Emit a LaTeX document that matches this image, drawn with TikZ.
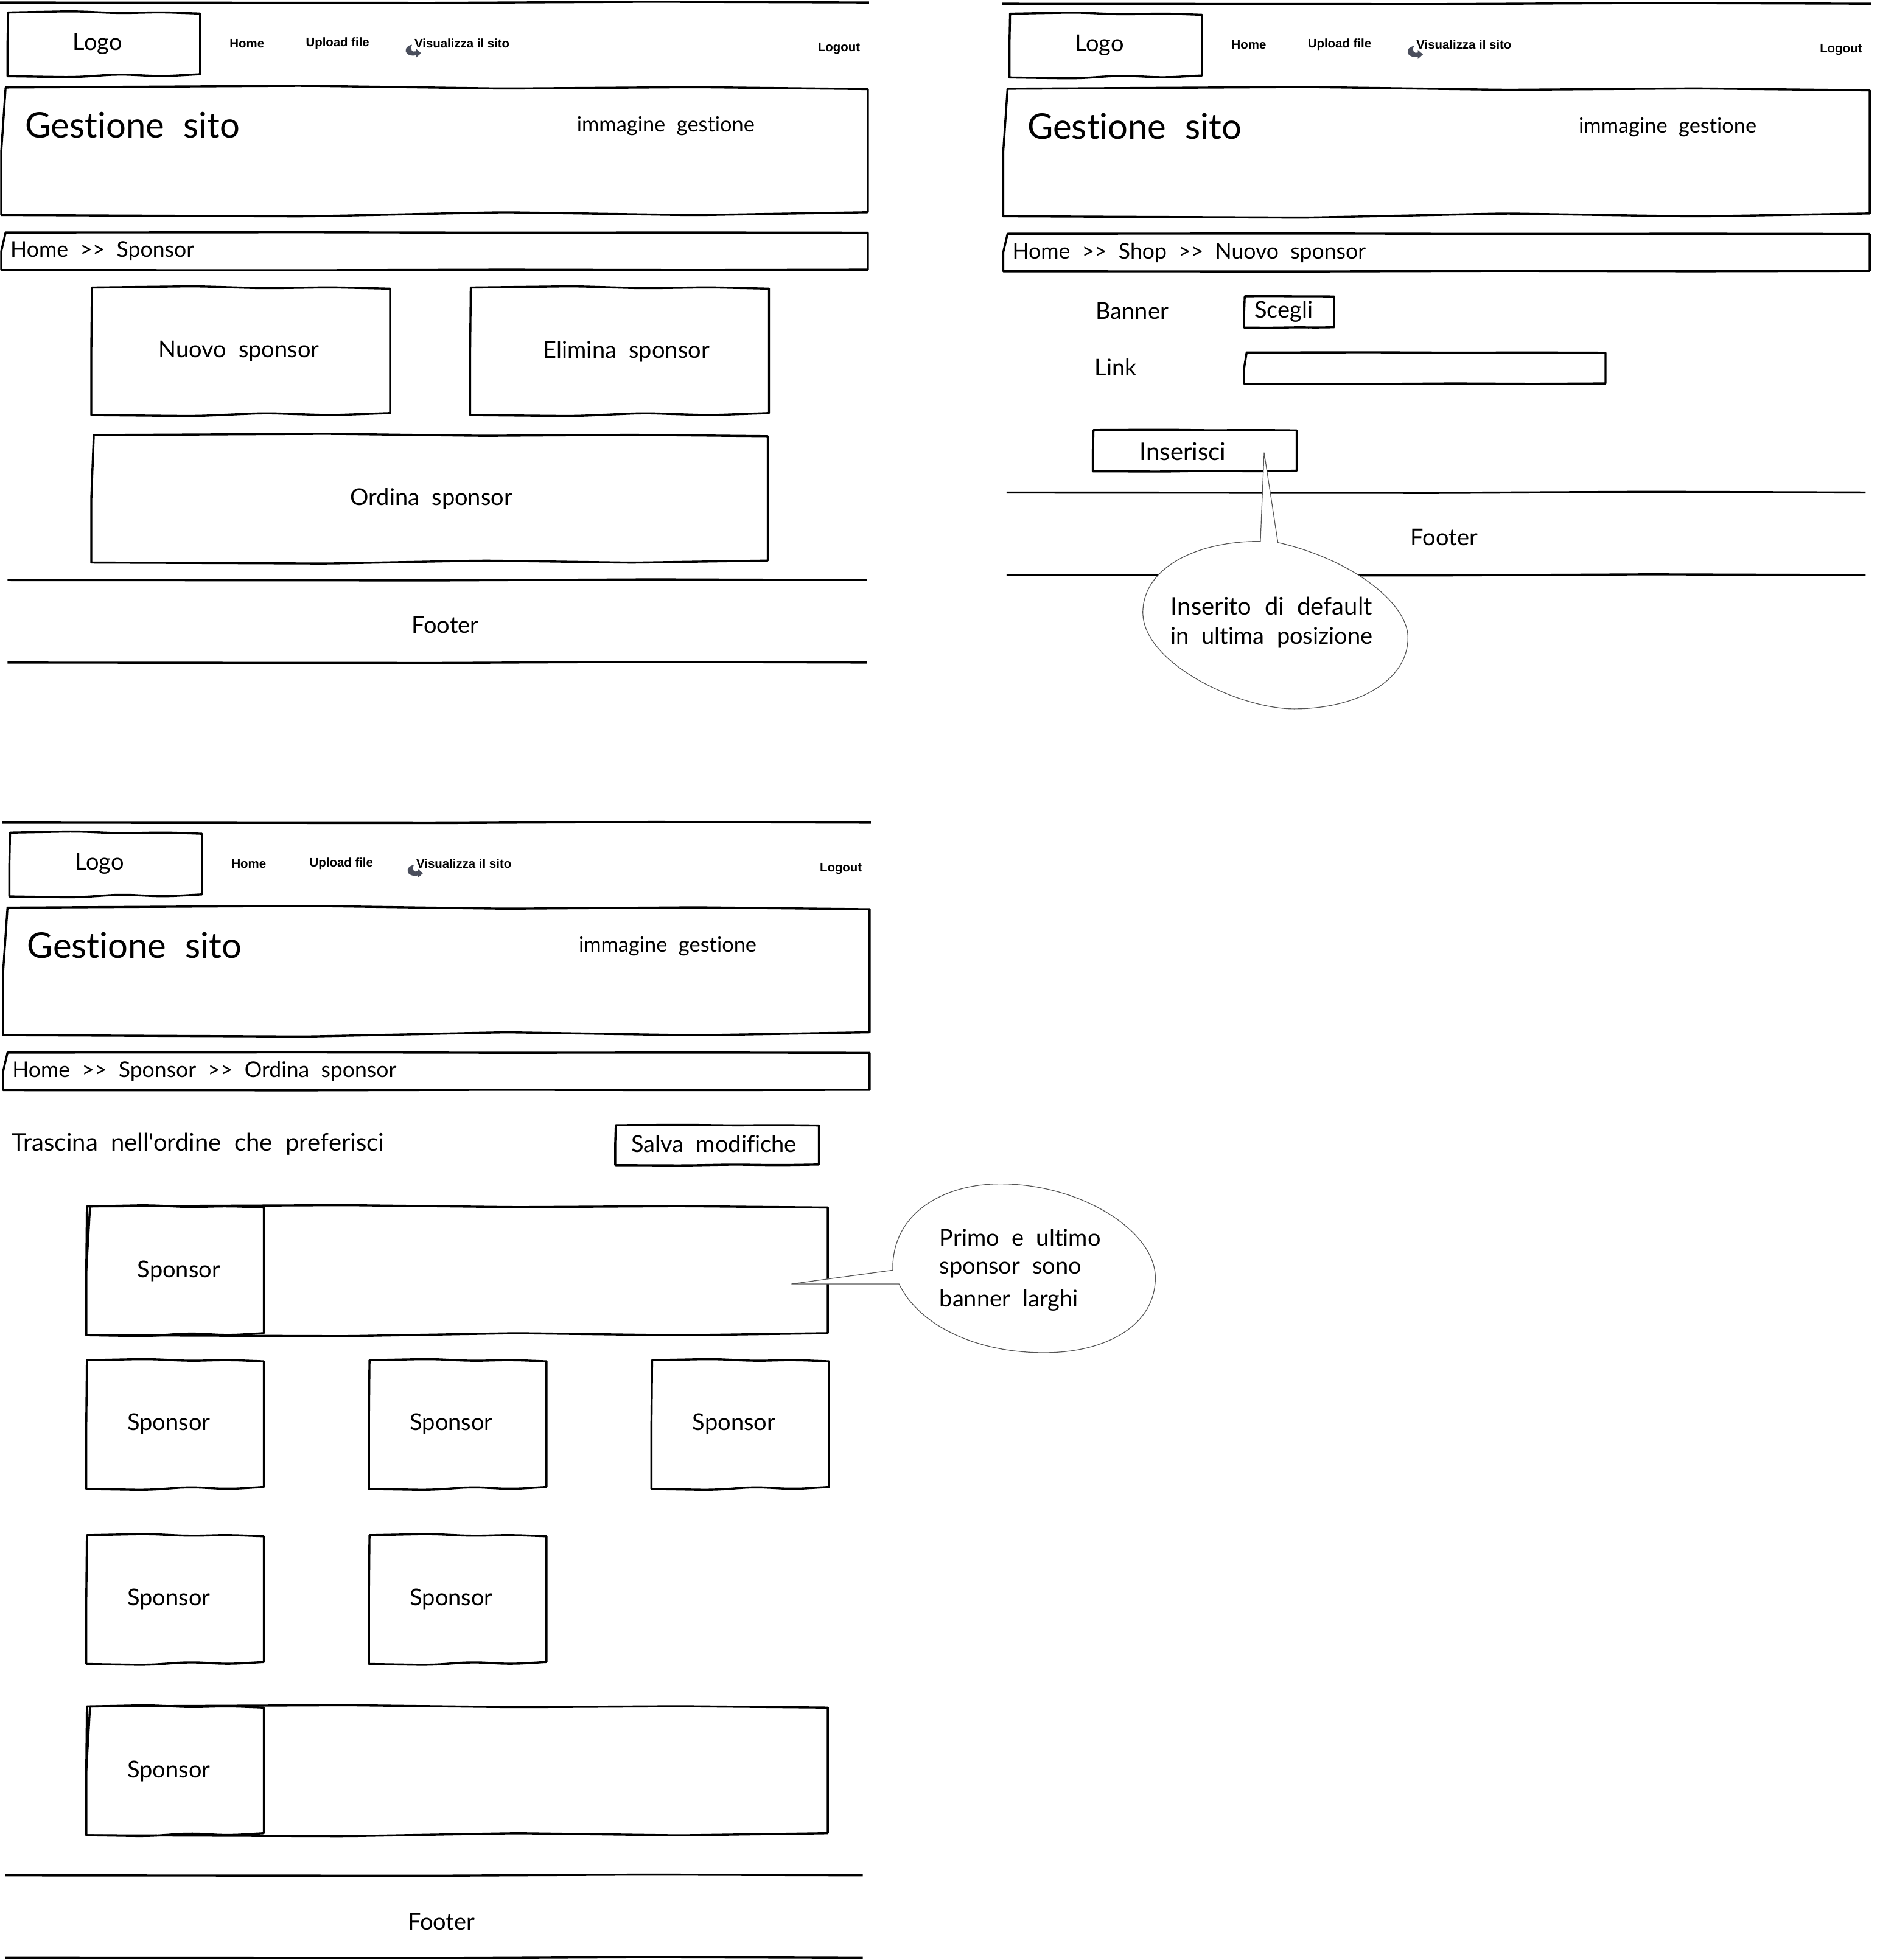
\documentclass[tikz,border=0pt]{standalone}
\usepackage{fontspec}
\usetikzlibrary{calc}
\newfontfamily\handfont[WordSpace=2.1,Ligatures=NoCommon]{Lato}
\newfontfamily\navfont{Liberation Sans}

\definecolor{iconcol}{HTML}{4A4E5C}
\definecolor{bubblecol}{HTML}{555555}

\tikzset{
  sketch/.style={draw=black,line width=0.85pt,line join=round},
  bubble/.style={draw=bubblecol,line width=0.3pt,fill=white,line join=miter},
  hand/.style={inner sep=0pt,yshift=-0.5pt,font=\handfont\fontsize{9.5}{12}\selectfont},
  handwide/.style={inner sep=0pt,yshift=-0.5pt,font=\handfont\fontsize{10}{12}\selectfont},
  handcrumb/.style={inner sep=0pt,yshift=-0.5pt,font=\handfont\fontsize{8.9}{12}\selectfont},
  handbig/.style={inner sep=0pt,font=\handfont\fontsize{14.5}{18}\selectfont},
  handsmall/.style={inner sep=0pt,yshift=-0.5pt,font=\handfont\fontsize{8.6}{11}\selectfont},
  navtext/.style={inner sep=0pt,yshift=-0.4pt,font=\navfont\bfseries\fontsize{5.1}{6}\selectfont}
}

% wobbly box: [left kink], x0, y0, x1, y1, wobble
\newcommand{\sketchbox}[6][0.5]{
  \draw[sketch] ({#2+#1},#3) [rounded corners=5pt]
    -- ({#2+0.35*(#4-#2)},{#3-#6})
    -- ({#2+0.58*(#4-#2)},{#3+0.6*#6})
    -- ({#2+0.8*(#4-#2)},{#3-0.2*#6}) [sharp corners]
    -- (#4,{#3+0.9*#6}) -- (#4,{#5-1.6*#6}) [rounded corners=5pt]
    -- ({#2+0.8*(#4-#2)},{#5+0.1*#6})
    -- ({#2+0.58*(#4-#2)},{#5-1.6*#6})
    -- ({#2+0.35*(#4-#2)},{#5+0.8*#6}) [sharp corners]
    -- (#2,#5) -- (#2,{#3+0.5*(#5-#3)}) -- cycle;
}
% wobbly rule: x0, x1, y
\newcommand{\sketchline}[3]{
  \draw[sketch,rounded corners=5pt] (#1,#3)
    -- ({#1+0.5*(#2-#1)},{#3+0.3}) -- ({#1+0.75*(#2-#1)},{#3-0.6}) -- (#2,#3);
}

\begin{document}
\begin{tikzpicture}[x=0.5136pt,y=-0.5136pt]

\useasboundingbox (0,0) rectangle (1503.5,1567.8);

% page head, three times
\foreach \fr/\dx/\dy/\upx/\crumb in {
  a/0/0/270/{Home >> Sponsor},
  b/801.3/1/270/{Home >> Shop >> Nuovo sponsor},
  c/1.5/656/271.5/{Home >> Sponsor >> Ordina sponsor}}{
\begin{scope}[shift={(\dx,\dy)}]
\sketchline{0}{695}{2}
\sketchbox{6}{10}{160}{61}{1}
\node[hand] (logo\fr) at (78,34) {Logo};
\node[navtext] (home\fr) at (197.5,34) {Home};
\node[navtext] (upload\fr) at (\upx,34) {Upload file};
\node[navtext] (site\fr) at (369.5,34) {Visualizza il sito};
\node[navtext] (logout\fr) at (671,38) {Logout};
\fill[iconcol] (329.5,35.8) .. controls (326,36.5) and (324,38.5) .. (324.5,41)
  .. controls (325,44) and (329,45) .. (332.6,44.2) -- (332.6,46.2) -- (336.7,42.5)
  -- (332.6,38.9) -- (332.6,41) .. controls (330,42) and (327.5,40) .. (329.5,35.8) -- cycle;
\sketchbox[3.5]{1}{70}{694}{172}{1.4}
\node[handbig,anchor=west] (title\fr) at (20,100) {Gestione sito};
\node[handsmall,anchor=west] (image\fr) at (461,100) {immagine gestione};
\sketchbox[3.5]{1}{186}{694}{216}{0.2}
\node[handcrumb,anchor=west] (crumb\fr) at (8,200) {\crumb};
\end{scope}
}

% first page
\sketchbox{73}{230}{312}{332}{1}
\sketchbox{376}{230}{615}{332}{1}
\sketchbox[2]{73}{348}{614}{450}{1}
\node[hand] (newsponsor) at (191,280) {Nuovo sponsor};
\node[hand] (delsponsor) at (501,280) {Elimina sponsor};
\node[hand] (ordsponsor) at (345,398) {Ordina sponsor};
\sketchline{6}{693}{464}
\sketchline{6}{693}{530}
\node[hand] (footera) at (356,499) {Footer};

% second page
\node[hand,anchor=west] (banner) at (876,248) {Banner};
\node[hand,anchor=west] (link) at (875,293) {Link};
\sketchbox{995}{237}{1067}{262}{0.2}
\node[hand,anchor=west] (choose) at (1003,248) {Scegli};
\sketchbox[2]{995}{282}{1284}{307}{0.2}
\sketchbox{874}{344}{1037}{377}{0.3}
\node[handwide] (insert) at (946,360) {Inserisci};
\sketchline{805}{1492}{394}
\sketchline{805}{1492}{460}
\node[hand] (footerb) at (1155,429) {Footer};
\draw[bubble] (1022,434) .. controls (1080,447) and (1126,482) .. (1126,510)
  .. controls (1126,545) and (1085,567) .. (1035,567)
  .. controls (990,567) and (914,530) .. (914,490)
  .. controls (914,455) and (955,433) .. (1008,433)
  -- (1011,362) -- cycle;
\node[handwide,anchor=west] (notea) at (936,484) {Inserito di default};
\node[hand,anchor=west] (noteb) at (936,509) {in ultima posizione};

% third page
\node[handwide,anchor=west] (drag) at (9,914) {Trascina nell'ordine che preferisci};
\sketchbox{492}{900}{655}{932}{0.3}
\node[hand] (save) at (571,914) {Salva modifiche};

\sketchbox{69}{965}{662}{1068}{1}
\sketchbox[3]{69}{965}{211}{1068}{1}
\node[hand] (spa) at (143,1016) {Sponsor};

\foreach \bx/\by/\nm in {69/1088/b,295/1088/c,521/1088/d,69/1228/e,295/1228/f}{
  \sketchbox{\bx}{\by}{\bx+142}{\by+103}{1}
  \node[hand] (sp\nm) at (\bx+66,\by+50) {Sponsor};
}

\sketchbox{69}{1365}{662}{1468}{1}
\sketchbox[3]{69}{1365}{211}{1468}{1}
\node[hand] (spg) at (135,1416) {Sponsor};

\sketchline{4}{690}{1500}
\sketchline{4}{690}{1566}
\node[hand] (footerc) at (353,1536) {Footer};

\draw[bubble] (719,1027) .. controls (735,1060) and (780,1082) .. (835,1082)
  .. controls (885,1082) and (924,1060) .. (924,1022)
  .. controls (924,985) and (865,947) .. (800,947)
  .. controls (755,947) and (713,970) .. (714,1016)
  -- (633,1027) -- cycle;
\node[hand,anchor=west] (notec) at (751,989) {Primo e ultimo};
\node[hand,anchor=west] (noted) at (751,1015) {sponsor sono};
\node[hand,anchor=west] (notee) at (751,1039) {banner larghi};

\end{tikzpicture}
\end{document}
